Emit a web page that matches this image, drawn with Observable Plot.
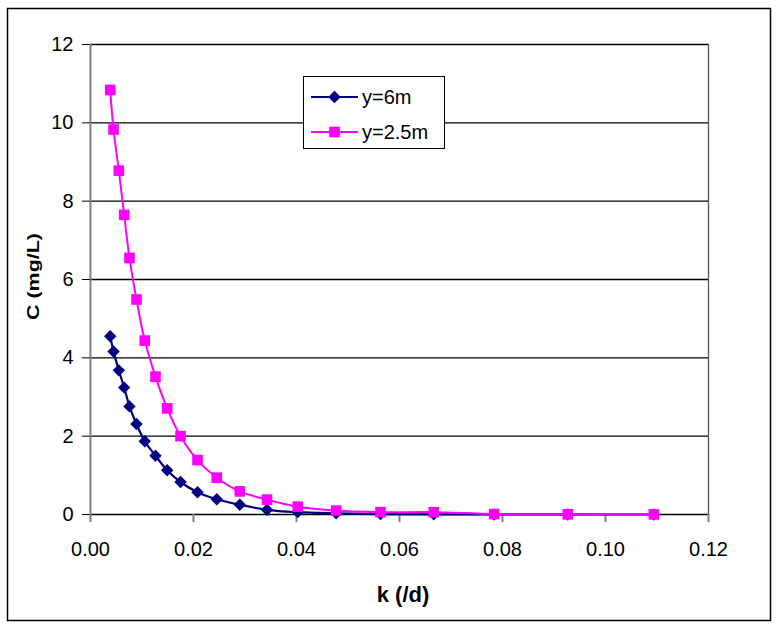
<!DOCTYPE html>
<html>
<head>
<meta charset="utf-8">
<script src="https://cdn.jsdelivr.net/npm/d3@7"></script>
<script src="https://cdn.jsdelivr.net/npm/@observablehq/plot@0.6"></script>
<style>
  html, body { margin: 0; padding: 0; background: #fff; }
  svg { display: block; }
</style>
</head>
<body>
<div id="chart"></div>
<script>
// Data
const kValues = [0.00383, 0.00447, 0.0055, 0.00654, 0.00757, 0.00893, 0.01054, 0.01262, 0.01489, 0.01748, 0.02078, 0.02452, 0.02899, 0.03427, 0.04025, 0.04771, 0.05631, 0.06666, 0.07839, 0.09268, 0.10938];
const cY6 = [4.55, 4.16, 3.68, 3.24, 2.76, 2.31, 1.87, 1.50, 1.13, 0.83, 0.57, 0.39, 0.25, 0.12, 0.06, 0.03, 0.01, 0.005, 0.002, 0.001, 0.0];
const cY25 = [10.84, 9.83, 8.78, 7.65, 6.55, 5.49, 4.44, 3.52, 2.71, 2.00, 1.39, 0.94, 0.59, 0.38, 0.20, 0.10, 0.06, 0.06, 0.01, 0.005, 0.003];
const seriesNames = ["y=6m", "y=2.5m"];
const xTicks = [0, 0.02, 0.04, 0.06, 0.08, 0.10, 0.12];
const yTicks = [0, 2, 4, 6, 8, 10, 12];
const xTitle = "k (/d)";
const yTitle = "C (mg/L)";

const navy = "#000080", pink = "#FF00FF";
const d6 = kValues.map((k, i) => ({k, c: cY6[i]}));
const d25 = kValues.map((k, i) => ({k, c: cY25[i]}));

const W = 776, H = 629;
const chart = Plot.plot({
  width: W, height: H,
  marginLeft: 90, marginRight: 68, marginTop: 44, marginBottom: 115,
  style: {fontFamily: "'Liberation Sans', Arial, sans-serif", fontSize: "20px", color: "#000", background: "#fff"},
  x: {domain: [0, 0.12]},
  y: {domain: [0, 12]},
  marks: [
    Plot.ruleY(yTicks, {stroke: "#000", strokeWidth: 1.3}),
    Plot.ruleX([0], {stroke: "#808080", strokeWidth: 2}),
    Plot.ruleX([0.12], {stroke: "#555", strokeWidth: 1.3}),
    Plot.axisY({ticks: yTicks, tickSize: 8, tickPadding: 9, label: null, fontSize: 20, stroke: "#000"}),
    Plot.axisX({ticks: xTicks, tickFormat: d => d.toFixed(2), tickSize: 8, tickPadding: 19, label: null, fontSize: 20, stroke: "#808080", strokeWidth: 2}),
    Plot.line(d6, {x: "k", y: "c", stroke: navy, strokeWidth: 2.2, curve: "catmull-rom"}),
    Plot.dot(d6, {x: "k", y: "c", symbol: "diamond2", r: 5.6, fill: navy}),
    Plot.line(d25, {x: "k", y: "c", stroke: pink, strokeWidth: 2, curve: "catmull-rom"}),
    Plot.dot(d25, {x: "k", y: "c", symbol: "square", r: 6, fill: pink})
  ]
});
document.getElementById("chart").appendChild(chart);

const svg = d3.select(chart);
const FONT = "'Liberation Sans', Arial, sans-serif";
// outer border
svg.append("rect").attr("x", 7.5).attr("y", 8.5).attr("width", 763).attr("height", 612)
  .attr("fill", "none").attr("stroke", "#000").attr("stroke-width", 1.5);

// axis titles
svg.append("text").text(xTitle)
  .attr("x", 403).attr("y", 602).attr("text-anchor", "middle")
  .attr("font-family", FONT).attr("font-weight", "bold").attr("font-size", 22);
svg.append("text").text(yTitle)
  .attr("transform", "translate(39,276.5) rotate(-90)").attr("text-anchor", "middle")
  .attr("font-family", FONT).attr("font-weight", "bold").attr("font-size", 16)
  .attr("textLength", 87).attr("lengthAdjust", "spacingAndGlyphs");

// legend
const lg = svg.append("g").attr("text-anchor", "start");
lg.append("rect").attr("x", 303.5).attr("y", 76.5).attr("width", 141).attr("height", 72)
  .attr("fill", "#fff").attr("stroke", "#000").attr("stroke-width", 1);
const entries = [
  {name: seriesNames[0], color: navy, sym: d3.symbolDiamond2, size: Math.PI * 5.6 * 5.6, cy: 97},
  {name: seriesNames[1], color: pink, sym: d3.symbolSquare, size: Math.PI * 6 * 6, cy: 132}
];
entries.forEach(e => {
  lg.append("line").attr("x1", 311).attr("x2", 358).attr("y1", e.cy).attr("y2", e.cy)
    .attr("stroke", e.color).attr("stroke-width", 2);
  lg.append("path").attr("d", d3.symbol(e.sym, e.size)()).attr("transform", `translate(334.5,${e.cy})`)
    .attr("fill", e.color);
  lg.append("text").text(e.name).attr("x", 362).attr("y", e.cy + 7).attr("text-anchor", "start")
    .attr("font-family", FONT).attr("font-size", 20).attr("fill", "#000");
});
</script>
</body>
</html>
